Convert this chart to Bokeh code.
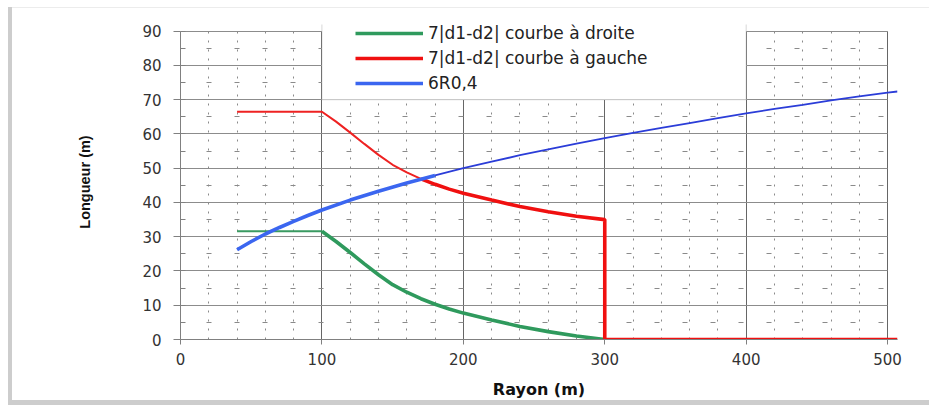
import numpy as np
from bokeh.plotting import figure
from bokeh.models import Range1d, SingleIntervalTicker, Legend, LegendItem, BoxAnnotation
from bokeh.embed import file_html
from bokeh.resources import INLINE

# ---------------- data ----------------
x_ticks = [0, 100, 200, 300, 400, 500]
y_ticks = [0, 10, 20, 30, 40, 50, 60, 70, 80, 90]

series_names = ["7|d1-d2| courbe à droite", "7|d1-d2| courbe à gauche", "6R0,4"]

green_x = [40, 60, 80, 100, 110, 120, 130, 140, 150, 160, 170, 180, 190, 200, 220, 240, 260, 280, 300]
green_y = [31.6, 31.6, 31.6, 31.6, 28.6, 25.4, 22.1, 18.9, 16.0, 13.8, 11.9, 10.3, 8.9, 7.7, 5.7, 3.8, 2.3, 1.0, 0.0]

red_x = [40, 60, 80, 100, 110, 120, 130, 140, 150, 160, 170, 180, 190, 200, 220, 240, 260, 280, 300, 300, 507]
red_y = [66.5, 66.5, 66.5, 66.5, 63.6, 60.4, 57.1, 53.9, 51.0, 48.8, 46.9, 45.3, 43.9, 42.7, 40.7, 38.8, 37.3, 36.0, 35.0, 0.0, 0.0]

blue_x = [40, 50, 60, 70, 80, 90, 100, 120, 140, 160, 180, 200, 220, 240, 260, 280, 300,
          320, 340, 360, 380, 400, 420, 440, 460, 480, 500, 507]
blue_y = [26.2, 28.6, 30.8, 32.7, 34.5, 36.2, 37.8, 40.7, 43.3, 45.7, 47.9, 50.0, 51.9, 53.8, 55.5, 57.2, 58.8,
          60.3, 61.8, 63.2, 64.6, 66.0, 67.3, 68.5, 69.8, 71.0, 72.1, 72.4]

X_END = 507
Y_END = 91.96

# ---------------- figure ----------------
frame_shadow = ("inset 8px 0 0 0 #ffffff, inset 0 7px 0 0 #ffffff, "
                "inset 12px 0 0 0 #cdcdcd, inset 0 8px 0 0 #ececec, inset 0 -5px 0 0 #cdcdcd")
p = figure(width=929, height=405,
           x_range=Range1d(0, X_END), y_range=Range1d(0, Y_END),
           output_backend="svg", toolbar_location=None,
           min_border_left=180, min_border_right=32, min_border_top=24, min_border_bottom=66,
           styles={"box-shadow": frame_shadow})
p.border_fill_color = None
p.background_fill_color = "white"
p.outline_line_color = None

p.xaxis.ticker = SingleIntervalTicker(interval=100, num_minor_ticks=5)
p.yaxis.ticker = SingleIntervalTicker(interval=10, num_minor_ticks=2)
p.yaxis.bounds = (y_ticks[0], y_ticks[-1])

# grids
p.xgrid.grid_line_color = "#666666"
p.ygrid.grid_line_color = "#8c8c8c"
p.xgrid.minor_grid_line_color = "#8a8a8a"
p.xgrid.minor_grid_line_dash = "2 7"
p.ygrid.minor_grid_line_color = "#8a8a8a"
p.ygrid.minor_grid_line_dash = "5 23"
p.ygrid.minor_grid_line_dash_offset = 2
if "cross_bounds" in p.xgrid[0].properties():
    p.xgrid[0].cross_bounds = (y_ticks[0], y_ticks[-1])
    p.ygrid[0].cross_bounds = (x_ticks[0], x_ticks[-1])

# axes
for ax in (p.xaxis[0], p.yaxis[0]):
    ax.axis_line_color = "#808080"
    ax.major_tick_line_color = "#808080"
    ax.major_tick_in = 0
    ax.major_label_text_font = "DejaVu Sans"
    ax.major_label_text_font_size = "15px"
    ax.major_label_text_color = "#333333"
    ax.axis_label_text_color = "#111111"
    ax.axis_label_text_font_style = "bold"

p.yaxis.major_tick_out = 7
p.yaxis.minor_tick_in = 5
p.yaxis.minor_tick_out = 0
p.yaxis.minor_tick_line_color = "#808080"
p.yaxis.major_label_standoff = 12
p.yaxis.axis_label = "Longueur (m)"
p.yaxis.axis_label_text_font = "Liberation Sans"
p.yaxis.axis_label_text_font_size = "14.5px"
p.yaxis.axis_label_standoff = 46

p.xaxis.major_tick_out = 5
p.xaxis.minor_tick_line_color = None
p.xaxis.major_label_standoff = 8
p.xaxis.axis_label = "Rayon (m)"
p.xaxis.axis_label_text_font = "DejaVu Sans"
p.xaxis.axis_label_text_font_size = "16px"
p.xaxis.axis_label_standoff = 12

# white legend area (between gridlines 100..400 above 70), its top edge beyond the frame
legend_bg = BoxAnnotation(left=x_ticks[1], right=x_ticks[4], bottom=y_ticks[7], top=Y_END + 3,
                          fill_color="white", fill_alpha=1.0,
                          line_color="#7a7a7a", line_width=1)
p.add_layout(legend_bg)


def part(xs, ys, lo, hi):
    xs = np.asarray(xs, dtype=float)
    ys = np.asarray(ys, dtype=float)
    m = (xs >= lo) & (xs <= hi)
    return xs[m], ys[m]


# green: thin flat part, thick descending part
gx, gy = part(green_x, green_y, 40, 100)
p.line(gx, gy, line_color="#3a9a62", line_width=2.0)
gx, gy = part(green_x, green_y, 100, 300)
g_main = p.line(gx, gy, line_color="#2f9a5d", line_width=3.6)

# red
rx, ry = part(red_x, red_y, 40, 170)
p.line(rx, ry, line_color="#ee2222", line_width=2.0)
rx, ry = part(red_x, red_y, 170, 507)
r_main = p.line(rx, ry, line_color="#f01010", line_width=3.6)

# blue
bx, by = part(blue_x, blue_y, 40, 180)
b_main = p.line(bx, by, line_color="#3b66f0", line_width=3.6)
bx, by = part(blue_x, blue_y, 180, 507)
p.line(bx, by, line_color="#2b3dd8", line_width=1.8)

legend = Legend(items=[LegendItem(label=series_names[0], renderers=[g_main]),
                       LegendItem(label=series_names[1], renderers=[r_main]),
                       LegendItem(label=series_names[2], renderers=[b_main])],
                location=(175, 245.7))
legend.padding = 0
legend.margin = 0
legend.spacing = 5
legend.glyph_height = 20
legend.glyph_width = 68
legend.label_height = 20
legend.label_standoff = 5
legend.background_fill_alpha = 0
legend.border_line_color = None
legend.label_text_font = "DejaVu Sans"
legend.label_text_font_size = "17px"
legend.label_text_color = "#222222"
p.add_layout(legend)

open("out.html", "w").write(file_html(p, INLINE))
